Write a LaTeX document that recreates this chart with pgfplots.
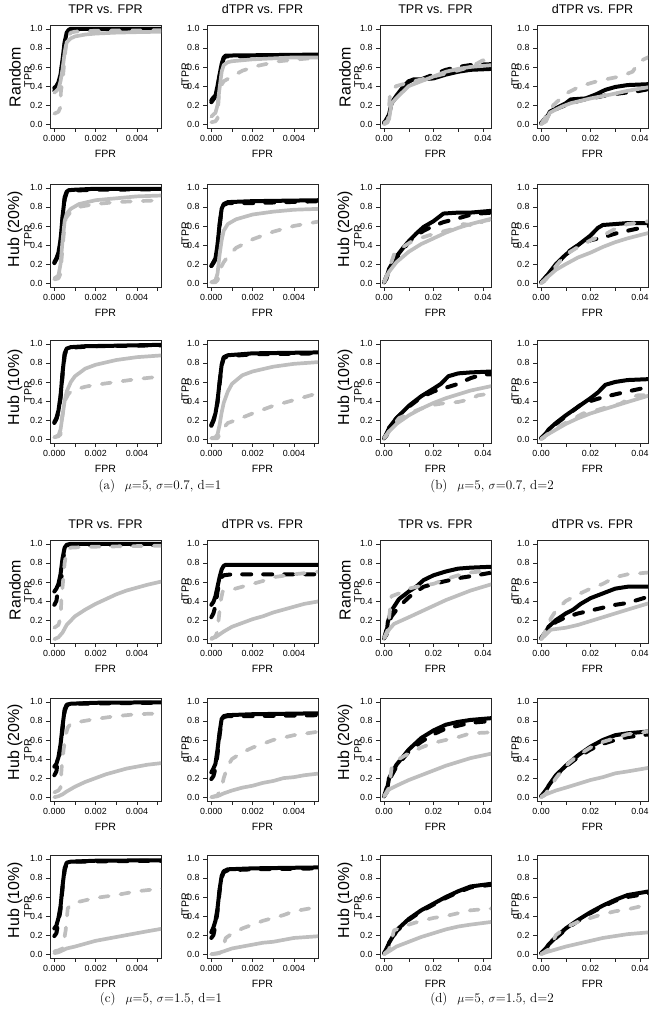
\documentclass[border=0pt]{standalone}
\usepackage{fontspec}
\usepackage{pgfplots}
\pgfplotsset{compat=1.18}
\newfontfamily\hv{Liberation Sans}
\newcommand\tickfont{\hv\fontsize{8.9}{10}\selectfont}
\newcommand\labfont{\hv\fontsize{10.6}{12}\selectfont}
\newcommand\titfont{\hv\fontsize{12.6}{14}\selectfont}
\newcommand\rowfont{\hv\fontsize{16}{18}\selectfont}
\newcommand\capfont{\fontsize{13.2}{15}\selectfont}
\definecolor{lg}{HTML}{BEBEBE}
\pgfplotsset{
  pbase/.style={scale only axis, width=111bp, height=103bp, anchor=south west,
    ymin=-0.04, ymax=1.04, ytick={0,0.2,0.4,0.6,0.8,1}, yticklabels={0.0,0.2,0.4,0.6,0.8,1.0},
    tick pos=left, tick align=outside, major tick length=4bp, minor tick length=4bp,
    axis line style={line width=0.6bp, black!85},
    every tick/.style={line width=0.6bp, black!85},
    every minor tick/.style={line width=0.6bp, black!85},
    tick label style={font=\tickfont},
    xlabel={FPR}, xlabel style={font=\labfont, at={(axis description cs:0.5,0)}, anchor=base, yshift=-30bp},
    title style={font=\titfont, at={(axis description cs:0.5,1)}, anchor=base, yshift=6bp},
    clip mode=individual},
  psa/.style={pbase, xmin=-0.21, xmax=5.17, xtick={0,2,4}, minor xtick={1,3,5}, xticklabels={0.000,0.002,0.004}},
  psb/.style={pbase, xmin=-0.166, xmax=4.326, xtick={0,2,4}, minor xtick={1,3}, xticklabels={0.00,0.02,0.04}},
  lbs/.style={black, line width=4bp, solid, line join=round, line cap=round},
  lbd/.style={black, line width=4bp, dash pattern=on 9bp off 12bp, line join=round, line cap=round},
  lgs/.style={lg, line width=3.7bp, solid, line join=round, line cap=round},
  lgd/.style={lg, line width=3.7bp, dash pattern=on 9bp off 12bp, line join=round, line cap=round},
}
% #1 position, #2 axis style, #3 y label, #4-#7 series
\newcommand\panel[7]{%
\begin{axis}[#2,at={(#1)}]
\node[rotate=90,font=\labfont] at ([xshift=-22bp]rel axis cs:0,0.5) {#3};
\addplot[lbs] coordinates {#4};
\addplot[lbd] coordinates {#5};
\addplot[lgs] coordinates {#6};
\addplot[lgd] coordinates {#7};
\end{axis}}
\begin{document}
\begin{tikzpicture}
\path[use as bounding box] (0,0) rectangle (659bp,1016bp);
% ---------- (a) row 1
\panel{50bp,888bp}{psa,title={TPR vs. FPR}}{TPR}
{(0,0.38)(0.1,0.4)(0.2,0.44)(0.3,0.52)(0.4,0.68)(0.5,0.86)(0.6,0.96)(0.7,0.99)(0.8,1.0)(2,1.0)(5.3,1.0)}
{(0,0.35)(0.1,0.38)(0.2,0.42)(0.3,0.5)(0.4,0.66)(0.5,0.84)(0.6,0.95)(0.7,0.985)(0.9,0.99)(5.3,0.995)}
{(0,0.33)(0.2,0.37)(0.3,0.45)(0.4,0.58)(0.5,0.75)(0.6,0.86)(0.8,0.9)(1,0.92)(1.5,0.94)(2,0.95)(3,0.96)(4,0.965)(5.3,0.97)}
{(0,0.11)(0.2,0.13)(0.3,0.18)(0.32,0.35)(0.4,0.45)(0.5,0.7)(0.6,0.9)(0.8,0.96)(1,0.97)(2,0.98)(5.3,0.985)}
\panel{207bp,888bp}{psa,title={dTPR vs. FPR}}{dTPR}
{(0,0.25)(0.1,0.28)(0.2,0.3)(0.3,0.4)(0.4,0.52)(0.5,0.63)(0.6,0.7)(0.7,0.72)(1,0.72)(5.3,0.73)}
{(0,0.23)(0.1,0.26)(0.2,0.29)(0.3,0.37)(0.4,0.5)(0.5,0.62)(0.6,0.69)(0.7,0.71)(1,0.71)(5.3,0.72)}
{(0,0.08)(0.2,0.12)(0.3,0.2)(0.4,0.38)(0.5,0.55)(0.6,0.62)(0.8,0.65)(1,0.66)(2,0.68)(3,0.69)(4,0.7)(5.3,0.7)}
{(0,0.02)(0.2,0.03)(0.3,0.06)(0.35,0.25)(0.4,0.38)(0.6,0.45)(1,0.5)(1.5,0.56)(2.2,0.61)(3.3,0.66)(4.2,0.68)(5.3,0.7)}
% ---------- (b) row 1
\panel{380bp,888bp}{psb,title={TPR vs. FPR}}{TPR}
{(0,0.02)(0.1,0.02)(0.2,0.1)(0.3,0.22)(0.5,0.3)(0.8,0.4)(1,0.45)(1.2,0.47)(1.5,0.47)(2,0.48)(2.5,0.52)(3,0.55)(3.5,0.57)(4.4,0.58)}
{(0,0.01)(0.2,0.1)(0.3,0.22)(0.6,0.32)(1,0.45)(1.5,0.47)(2,0.52)(2.5,0.57)(3,0.6)(3.5,0.62)(4.4,0.63)}
{(0,0.01)(0.2,0.05)(0.3,0.22)(0.6,0.3)(1,0.4)(1.5,0.45)(2,0.5)(2.5,0.55)(3,0.58)(3.5,0.6)(4.4,0.62)}
{(0,0)(0.15,0.02)(0.25,0.35)(0.5,0.4)(1.2,0.45)(2,0.5)(2.8,0.55)(3.5,0.6)(4,0.67)(4.4,0.64)}
\panel{537bp,888bp}{psb,title={dTPR vs. FPR}}{dTPR}
{(0,0.01)(0.2,0.05)(0.35,0.13)(0.7,0.18)(1,0.22)(1.2,0.26)(1.8,0.27)(2.2,0.31)(2.6,0.36)(3,0.39)(3.5,0.41)(4.4,0.42)}
{(0,0.01)(0.35,0.12)(0.7,0.17)(1.2,0.22)(1.6,0.25)(2.2,0.28)(2.8,0.31)(3.4,0.33)(3.8,0.34)(4.4,0.37)}
{(0,0)(0.2,0.03)(0.35,0.12)(0.8,0.18)(1.2,0.22)(2,0.27)(2.8,0.31)(3.5,0.35)(4.4,0.39)}
{(0,0)(0.3,0.12)(0.5,0.2)(1,0.32)(1.6,0.4)(2.4,0.46)(3.2,0.5)(3.7,0.55)(4,0.66)(4.4,0.71)}
% ---------- (a) row 2
\panel{50bp,729bp}{psa}{TPR}
{(0,0.22)(0.1,0.26)(0.2,0.32)(0.3,0.45)(0.4,0.7)(0.5,0.9)(0.6,0.96)(0.7,0.975)(1,0.98)(2,0.99)(5.3,0.99)}
{(0,0.21)(0.1,0.25)(0.2,0.3)(0.3,0.43)(0.4,0.68)(0.5,0.88)(0.6,0.95)(0.8,0.97)(2,0.98)(5.3,0.985)}
{(0,0.05)(0.2,0.08)(0.3,0.2)(0.4,0.45)(0.5,0.65)(0.6,0.73)(0.8,0.78)(1.2,0.83)(2,0.87)(3,0.89)(4,0.91)(5.3,0.92)}
{(0,0.04)(0.2,0.05)(0.3,0.1)(0.35,0.25)(0.45,0.5)(0.55,0.68)(0.8,0.75)(1.2,0.8)(2,0.83)(3,0.85)(4,0.86)(5.3,0.87)}
\panel{207bp,729bp}{psa}{dTPR}
{(0,0.18)(0.1,0.22)(0.2,0.26)(0.3,0.4)(0.4,0.62)(0.5,0.78)(0.6,0.83)(0.8,0.85)(2,0.86)(5.3,0.87)}
{(0,0.18)(0.1,0.21)(0.2,0.25)(0.3,0.38)(0.4,0.6)(0.5,0.77)(0.6,0.82)(0.8,0.84)(2,0.84)(5.3,0.86)}
{(0,0.01)(0.2,0.03)(0.3,0.1)(0.4,0.3)(0.5,0.45)(0.6,0.55)(0.8,0.62)(1.2,0.67)(2,0.72)(3,0.75)(4,0.77)(5.3,0.78)}
{(0,0.01)(0.2,0.01)(0.3,0.03)(0.4,0.1)(0.5,0.18)(0.6,0.22)(0.8,0.28)(1.2,0.37)(2,0.46)(3,0.54)(4,0.6)(5.3,0.65)}
% ---------- (b) row 2
\panel{380bp,729bp}{psb}{TPR}
{(0,0.01)(0.1,0.05)(0.2,0.15)(0.5,0.28)(0.8,0.38)(1,0.44)(1.3,0.52)(1.6,0.59)(2,0.65)(2.4,0.73)(3,0.74)(3.5,0.74)(4.4,0.76)}
{(0,0.01)(0.2,0.14)(0.6,0.3)(1,0.43)(1.3,0.5)(1.6,0.55)(2,0.6)(2.4,0.64)(3,0.68)(3.4,0.71)(3.8,0.73)(4.4,0.74)}
{(0,0.01)(0.2,0.12)(0.5,0.22)(1,0.33)(1.5,0.41)(2,0.47)(2.5,0.53)(3,0.58)(3.5,0.62)(4.4,0.68)}
{(0,0.01)(0.2,0.15)(0.4,0.3)(0.7,0.37)(1.2,0.45)(1.8,0.5)(2.5,0.55)(3,0.58)(3.2,0.62)(3.8,0.6)(4,0.65)(4.4,0.67)}
\panel{537bp,729bp}{psb}{dTPR}
{(0,0.01)(0.1,0.02)(0.3,0.1)(0.6,0.2)(1,0.3)(1.5,0.4)(2,0.5)(2.3,0.58)(2.5,0.61)(3,0.62)(3.5,0.63)(4.4,0.63)}
{(0,0.01)(0.3,0.1)(0.7,0.22)(1.1,0.33)(1.5,0.4)(2,0.45)(2.5,0.48)(3,0.52)(3.5,0.55)(4.4,0.6)}
{(0,0)(0.2,0.05)(0.6,0.14)(1,0.2)(1.5,0.27)(2,0.32)(2.5,0.38)(3,0.43)(3.5,0.47)(4.4,0.53)}
{(0,0)(0.2,0.04)(0.6,0.18)(1,0.3)(1.5,0.38)(2,0.45)(2.5,0.5)(3,0.57)(3.5,0.62)(4.4,0.65)}
% ---------- (a) row 3
\panel{50bp,573bp}{psa}{TPR}
{(0,0.18)(0.1,0.22)(0.2,0.3)(0.3,0.45)(0.4,0.7)(0.5,0.9)(0.6,0.95)(0.8,0.965)(1.5,0.975)(3,0.98)(5.3,0.99)}
{(0,0.17)(0.1,0.21)(0.2,0.28)(0.3,0.43)(0.4,0.68)(0.5,0.88)(0.6,0.94)(0.8,0.96)(2,0.975)(5.3,0.985)}
{(0,0.02)(0.2,0.04)(0.3,0.1)(0.4,0.25)(0.5,0.4)(0.6,0.5)(0.8,0.6)(1,0.66)(1.5,0.74)(2,0.78)(3,0.83)(4,0.86)(5.3,0.88)}
{(0,0.02)(0.2,0.03)(0.3,0.05)(0.35,0.2)(0.45,0.32)(0.55,0.42)(0.7,0.48)(1,0.52)(1.5,0.55)(2,0.57)(3,0.6)(4,0.63)(5.3,0.66)}
\panel{207bp,573bp}{psa}{dTPR}
{(0,0.15)(0.1,0.2)(0.2,0.27)(0.3,0.4)(0.4,0.6)(0.5,0.78)(0.6,0.86)(0.8,0.88)(2,0.9)(5.3,0.91)}
{(0,0.14)(0.1,0.19)(0.2,0.26)(0.3,0.39)(0.4,0.58)(0.5,0.77)(0.6,0.85)(0.8,0.87)(2,0.89)(5.3,0.9)}
{(0,0.01)(0.2,0.02)(0.3,0.05)(0.4,0.15)(0.5,0.28)(0.6,0.38)(0.8,0.5)(1,0.58)(1.5,0.67)(2,0.71)(3,0.76)(4,0.79)(5.3,0.81)}
{(0,0.01)(0.3,0.01)(0.6,0.12)(0.8,0.17)(1.2,0.2)(2,0.27)(3,0.35)(4,0.41)(5.3,0.49)}
% ---------- (b) row 3
\panel{380bp,573bp}{psb}{TPR}
{(0,0.01)(0.1,0.04)(0.2,0.12)(0.5,0.22)(1,0.35)(1.5,0.45)(2,0.53)(2.3,0.58)(2.6,0.66)(3,0.69)(3.5,0.7)(4.4,0.71)}
{(0,0.01)(0.2,0.11)(0.5,0.22)(1,0.34)(1.5,0.44)(2,0.5)(2.5,0.54)(3,0.58)(3.5,0.64)(4,0.68)(4.4,0.68)}
{(0,0.01)(0.2,0.08)(0.5,0.16)(1,0.25)(1.5,0.32)(2,0.38)(2.5,0.43)(3,0.47)(3.5,0.51)(4.4,0.56)}
{(0,0.01)(0.3,0.12)(0.6,0.22)(1,0.27)(1.5,0.32)(2,0.36)(2.5,0.38)(3,0.39)(3.5,0.42)(3.8,0.46)(4.4,0.48)}
\panel{537bp,573bp}{psb}{dTPR}
{(0,0.01)(0.1,0.02)(0.3,0.1)(0.6,0.17)(1,0.25)(1.5,0.34)(2,0.43)(2.3,0.49)(2.6,0.57)(3,0.6)(3.5,0.62)(4.4,0.63)}
{(0,0.01)(0.3,0.09)(0.7,0.18)(1.2,0.28)(1.6,0.36)(2,0.4)(2.5,0.44)(3,0.47)(3.5,0.5)(4.4,0.55)}
{(0,0)(0.2,0.04)(0.6,0.1)(1,0.16)(1.5,0.22)(2,0.27)(2.5,0.31)(3,0.35)(3.5,0.39)(4.4,0.46)}
{(0,0)(0.3,0.06)(0.7,0.13)(1.2,0.2)(1.7,0.27)(2.2,0.3)(2.7,0.34)(3.2,0.37)(3.6,0.43)(3.9,0.46)(4.4,0.46)}
% ---------- (c) row 4
\panel{50bp,373bp}{psa,title={TPR vs. FPR}}{TPR}
{(0,0.5)(0.1,0.53)(0.2,0.58)(0.3,0.68)(0.4,0.85)(0.5,0.96)(0.6,0.99)(0.8,1)(5.3,1)}
{(0,0.36)(0.1,0.4)(0.15,0.48)(0.2,0.5)(0.3,0.62)(0.35,0.66)(0.4,0.8)(0.5,0.94)(0.6,0.98)(0.8,0.99)(5.3,0.99)}
{(0,0)(0.2,0.02)(0.4,0.07)(0.6,0.15)(1,0.24)(1.5,0.31)(2,0.37)(2.5,0.42)(3,0.47)(3.5,0.51)(4,0.54)(4.5,0.57)(5.3,0.61)}
{(0,0.12)(0.2,0.15)(0.3,0.22)(0.35,0.45)(0.4,0.55)(0.5,0.8)(0.6,0.93)(0.8,0.96)(2,0.97)(5.3,0.98)}
\panel{207bp,373bp}{psa,title={dTPR vs. FPR}}{dTPR}
{(0,0.36)(0.1,0.39)(0.2,0.45)(0.3,0.55)(0.4,0.65)(0.5,0.73)(0.6,0.77)(0.7,0.78)(5.3,0.78)}
{(0,0.23)(0.1,0.27)(0.2,0.35)(0.3,0.5)(0.4,0.6)(0.5,0.65)(0.6,0.67)(1,0.68)(5.3,0.68)}
{(0,0.01)(0.2,0.02)(0.4,0.05)(0.6,0.08)(1,0.13)(1.5,0.17)(2,0.21)(2.5,0.24)(3,0.28)(3.5,0.31)(4,0.34)(4.5,0.37)(5.3,0.4)}
{(0,0)(0.2,0.03)(0.3,0.08)(0.35,0.2)(0.45,0.4)(0.55,0.5)(1,0.52)(1.5,0.55)(2,0.58)(2.5,0.61)(3,0.65)(4,0.68)(5.3,0.71)}
% ---------- (d) row 4
\panel{380bp,373bp}{psb,title={TPR vs. FPR}}{TPR}
{(0,0.01)(0.1,0.05)(0.15,0.18)(0.3,0.3)(0.6,0.42)(1,0.5)(1.3,0.55)(1.6,0.62)(2,0.67)(2.5,0.71)(3,0.74)(3.5,0.75)(4.4,0.76)}
{(0,0.01)(0.15,0.15)(0.3,0.24)(0.6,0.34)(1,0.44)(1.3,0.5)(1.6,0.55)(2,0.58)(2.5,0.61)(3,0.64)(3.5,0.66)(4.4,0.7)}
{(0,0.01)(0.2,0.1)(0.4,0.16)(1,0.23)(1.5,0.29)(2,0.35)(2.5,0.41)(3,0.46)(3.5,0.51)(4.4,0.58)}
{(0,0.01)(0.15,0.1)(0.3,0.45)(0.6,0.48)(1,0.53)(1.5,0.56)(2,0.58)(2.5,0.63)(3,0.67)(3.5,0.7)(4.4,0.72)}
\panel{537bp,373bp}{psb,title={dTPR vs. FPR}}{dTPR}
{(0,0.01)(0.15,0.05)(0.3,0.13)(0.6,0.2)(1,0.27)(1.3,0.31)(1.6,0.37)(2,0.43)(2.5,0.48)(3,0.53)(3.5,0.55)(4.4,0.55)}
{(0,0.01)(0.3,0.12)(0.6,0.18)(1,0.23)(1.5,0.27)(2,0.3)(2.5,0.33)(3,0.36)(3.5,0.38)(4.4,0.45)}
{(0,0)(0.2,0.05)(0.4,0.1)(1,0.12)(1.5,0.15)(2,0.19)(2.5,0.23)(3,0.27)(3.5,0.31)(4.4,0.38)}
{(0,0)(0.2,0.1)(0.4,0.22)(0.6,0.3)(1,0.4)(1.5,0.47)(2,0.53)(2.5,0.58)(3,0.65)(3.5,0.68)(4.4,0.7)}
% ---------- (c) row 5
\panel{50bp,215bp}{psa}{TPR}
{(0,0.32)(0.1,0.35)(0.2,0.42)(0.3,0.55)(0.4,0.75)(0.5,0.92)(0.6,0.97)(0.8,0.98)(2,0.99)(5.3,0.995)}
{(0,0.23)(0.1,0.27)(0.15,0.35)(0.2,0.4)(0.3,0.5)(0.4,0.72)(0.5,0.9)(0.6,0.96)(1,0.98)(5.3,0.99)}
{(0,0)(0.2,0.01)(0.4,0.03)(0.6,0.06)(1,0.11)(1.5,0.16)(2,0.2)(2.5,0.24)(3,0.27)(3.5,0.3)(4,0.32)(4.5,0.34)(5.3,0.36)}
{(0,0.05)(0.2,0.07)(0.3,0.1)(0.35,0.3)(0.45,0.5)(0.55,0.65)(0.65,0.73)(0.8,0.77)(1.2,0.79)(2,0.82)(3,0.85)(4,0.87)(5.3,0.88)}
\panel{207bp,215bp}{psa}{dTPR}
{(0,0.26)(0.1,0.3)(0.2,0.35)(0.3,0.5)(0.4,0.68)(0.5,0.82)(0.6,0.85)(0.8,0.86)(2,0.87)(5.3,0.88)}
{(0,0.19)(0.1,0.22)(0.2,0.3)(0.3,0.45)(0.4,0.65)(0.5,0.8)(0.6,0.84)(0.8,0.85)(2,0.85)(5.3,0.86)}
{(0,0)(0.3,0.01)(0.6,0.04)(1,0.07)(1.5,0.1)(2,0.12)(2.5,0.15)(3,0.17)(3.5,0.2)(4,0.21)(4.5,0.23)(5.3,0.25)}
{(0,0)(0.3,0.02)(0.5,0.1)(0.6,0.2)(0.8,0.33)(1,0.4)(1.5,0.47)(2,0.52)(2.5,0.56)(3,0.6)(4,0.65)(5.3,0.69)}
% ---------- (d) row 5
\panel{380bp,215bp}{psb}{TPR}
{(0,0.01)(0.1,0.05)(0.2,0.2)(0.5,0.34)(1,0.5)(1.5,0.62)(2,0.7)(2.5,0.76)(3,0.79)(3.5,0.81)(4.4,0.83)}
{(0,0.01)(0.2,0.18)(0.5,0.32)(1,0.48)(1.5,0.58)(2,0.66)(2.5,0.72)(3,0.75)(3.5,0.78)(4.4,0.8)}
{(0,0.01)(0.2,0.08)(0.5,0.12)(1,0.18)(1.5,0.23)(2,0.28)(2.5,0.33)(3,0.37)(3.5,0.41)(4.4,0.46)}
{(0,0.01)(0.2,0.1)(0.3,0.3)(0.6,0.4)(1,0.46)(1.5,0.52)(2,0.57)(2.5,0.6)(3,0.63)(3.5,0.67)(4.4,0.68)}
\panel{537bp,215bp}{psb}{dTPR}
{(0,0.01)(0.1,0.02)(0.3,0.12)(0.6,0.23)(1,0.33)(1.5,0.44)(2,0.53)(2.5,0.6)(3,0.65)(3.5,0.67)(4.4,0.69)}
{(0,0.01)(0.3,0.11)(0.6,0.22)(1,0.32)(1.5,0.42)(2,0.5)(2.5,0.56)(3,0.6)(3.5,0.63)(4.4,0.66)}
{(0,0)(0.2,0.03)(0.6,0.07)(1,0.1)(1.5,0.14)(2,0.18)(2.5,0.21)(3,0.25)(3.5,0.27)(4.4,0.31)}
{(0,0)(0.2,0.04)(0.6,0.2)(1,0.33)(1.5,0.44)(2,0.52)(2.5,0.58)(3,0.62)(3.5,0.66)(4.4,0.69)}
% ---------- (c) row 6
\panel{50bp,58bp}{psa}{TPR}
{(0,0.27)(0.1,0.3)(0.2,0.38)(0.3,0.5)(0.4,0.72)(0.5,0.9)(0.6,0.96)(0.8,0.97)(2,0.98)(5.3,0.985)}
{(0,0.19)(0.1,0.22)(0.15,0.28)(0.2,0.33)(0.3,0.47)(0.4,0.7)(0.5,0.88)(0.6,0.95)(1,0.97)(5.3,0.98)}
{(0,0.01)(0.2,0.02)(0.4,0.04)(0.6,0.06)(1,0.08)(1.5,0.11)(2,0.14)(2.5,0.16)(3,0.18)(3.5,0.2)(4,0.22)(4.5,0.24)(5.3,0.27)}
{(0,0.03)(0.2,0.04)(0.4,0.06)(0.55,0.25)(0.65,0.48)(0.8,0.52)(1.2,0.55)(2,0.59)(3,0.62)(4,0.66)(5.3,0.69)}
\panel{207bp,58bp}{psa}{dTPR}
{(0,0.23)(0.1,0.28)(0.2,0.35)(0.3,0.48)(0.4,0.68)(0.5,0.82)(0.6,0.87)(0.8,0.89)(2,0.9)(5.3,0.91)}
{(0,0.17)(0.1,0.2)(0.2,0.3)(0.3,0.45)(0.4,0.66)(0.5,0.8)(0.6,0.86)(0.8,0.88)(2,0.89)(5.3,0.9)}
{(0,0)(0.3,0.01)(0.6,0.03)(1,0.06)(1.5,0.08)(2,0.1)(2.5,0.12)(3,0.13)(3.5,0.15)(4,0.17)(5.3,0.19)}
{(0,0)(0.4,0.01)(0.6,0.1)(0.7,0.17)(0.9,0.2)(1.5,0.27)(2,0.31)(2.5,0.35)(3,0.38)(3.5,0.41)(4,0.45)(5.3,0.5)}
% ---------- (d) row 6
\panel{380bp,58bp}{psb}{TPR}
{(0,0.01)(0.1,0.04)(0.2,0.12)(0.5,0.25)(1,0.37)(1.5,0.46)(2,0.53)(2.5,0.6)(3,0.66)(3.5,0.71)(4.4,0.74)}
{(0,0.01)(0.2,0.11)(0.5,0.24)(1,0.36)(1.5,0.45)(2,0.52)(2.5,0.59)(3,0.65)(3.5,0.7)(4.4,0.73)}
{(0,0)(0.2,0.03)(0.5,0.08)(1,0.13)(1.5,0.18)(2,0.22)(2.5,0.26)(3,0.29)(3.5,0.31)(4.4,0.34)}
{(0,0)(0.2,0.05)(0.4,0.25)(0.7,0.28)(1,0.31)(1.5,0.35)(2,0.38)(2.5,0.4)(3,0.43)(3.5,0.46)(4.4,0.48)}
\panel{537bp,58bp}{psb}{dTPR}
{(0,0.01)(0.1,0.02)(0.3,0.1)(0.6,0.18)(1,0.27)(1.5,0.36)(2,0.44)(2.5,0.51)(3,0.57)(3.5,0.62)(4.4,0.66)}
{(0,0.01)(0.3,0.09)(0.6,0.17)(1,0.26)(1.5,0.35)(2,0.43)(2.5,0.5)(3,0.56)(3.5,0.6)(4.4,0.64)}
{(0,0)(0.2,0.02)(0.6,0.05)(1,0.08)(1.5,0.11)(2,0.14)(2.5,0.17)(3,0.19)(3.5,0.21)(4.4,0.23)}
{(0,0)(0.3,0.05)(0.6,0.2)(1,0.28)(1.5,0.34)(2,0.38)(2.5,0.42)(3,0.45)(3.5,0.47)(4,0.5)(4.4,0.55)}
% ---------- row labels
\foreach \xx in {15,345}{
  \node[rotate=90,font=\rowfont] at (\xx bp,939bp) {Random};
  \node[rotate=90,font=\rowfont] at (\xx bp,787bp) {Hub (20\%)};
  \node[rotate=90,font=\rowfont] at (\xx bp,629bp) {Hub (10\%)};
  \node[rotate=90,font=\rowfont] at (\xx bp,426bp) {Random};
  \node[rotate=90,font=\rowfont] at (\xx bp,274bp) {Hub (20\%)};
  \node[rotate=90,font=\rowfont] at (\xx bp,116bp) {Hub (10\%)};
}
% ---------- captions
\node[anchor=base,font=\capfont] at (160bp,526bp) {(a)\hspace{0.75em}$\mu$=5, $\sigma$=0.7, d=1};
\node[anchor=base,font=\capfont] at (492bp,526bp) {(b)\hspace{0.75em}$\mu$=5, $\sigma$=0.7, d=2};
\node[anchor=base,font=\capfont] at (161bp,14bp) {(c)\hspace{0.75em}$\mu$=5, $\sigma$=1.5, d=1};
\node[anchor=base,font=\capfont] at (492bp,14bp) {(d)\hspace{0.75em}$\mu$=5, $\sigma$=1.5, d=2};
\end{tikzpicture}
\end{document}
